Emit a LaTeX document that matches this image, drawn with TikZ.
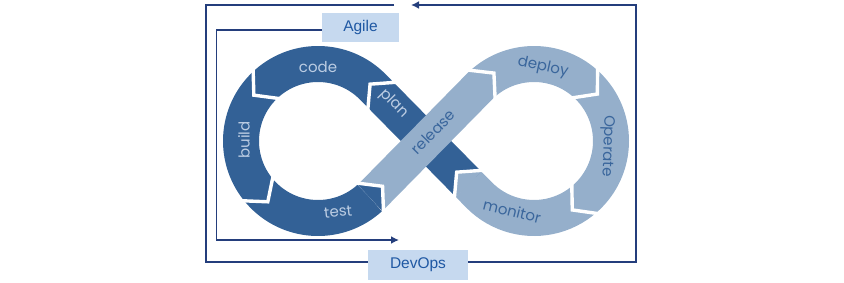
\documentclass[tikz,border=0pt]{standalone}
\usepackage{fontspec}
\setmainfont{Liberation Sans}
\newfontfamily\ribbonfont{Poppins}
\usetikzlibrary{calc,arrows.meta}
\definecolor{dk}{HTML}{336196}
\definecolor{lt}{HTML}{95AFCB}
\definecolor{dtxt}{HTML}{BCCDE3}
\definecolor{ltxt}{HTML}{3A669C}
\definecolor{boxfill}{HTML}{C6D9EF}
\definecolor{boxtxt}{HTML}{1F58A3}
\definecolor{navy}{HTML}{243E7C}
\begin{document}
\begin{tikzpicture}[x=1pt,y=1pt,
  dkband/.style={draw=dk,line width=36pt,line cap=butt},
  ltband/.style={draw=lt,line width=36pt,line cap=butt},
  sep/.style={draw=white,line width=3.4pt,line join=miter},
  ontxt/.style={font=\ribbonfont\fontsize{15}{15}\selectfont,text=dtxt,inner sep=0pt},
  oltxt/.style={font=\ribbonfont\fontsize{15}{15}\selectfont,text=ltxt,inner sep=0pt},
  tagbox/.style={fill=boxfill,text=boxtxt,inner sep=0pt,font=\fontsize{15.5}{16}\selectfont},
  conn/.style={draw=navy,line width=1.9pt}]
\useasboundingbox (0,0) rectangle (844,282);
\coordinate (CL) at (318,141);
\coordinate (CR) at (534,141);
\coordinate (TLp) at ($(CL)+(44.52:77)$);
\coordinate (TRp) at ($(CR)+(135.48:77)$);
\coordinate (TRm) at ($(CR)+(-135.48:77)$);
\coordinate (S) at ($(TRm)+(134.52:15)$);
\coordinate (B4) at ($(CL)+(-47.5:77)$);
\coordinate (C1) at ($(TLp)+(-45.48:13)$);
% dark half: plan + code/build/test
\draw[dkband] (S) -- (TLp) arc[start angle=44.52, end angle=312.5, radius=77pt];
% light half: release + deploy/Operate/monitor
\draw[ltband] (B4) arc[start angle=-47.5, end angle=-44.52, radius=77pt] -- (TRp)
  arc[start angle=135.48, end angle=-135.48, radius=77pt] -- (S);
% arrow tips across colour boundaries
\fill[dk] ($(B4)+(-47.5:18)$) -- ($(B4)+(42.5:17)$) -- ($(B4)+(132.5:18)$) -- cycle;
\fill[lt] ($(S)+(44.52:18)$) -- ($(S)+(134.52:17)$) -- ($(S)+(224.52:18)$) -- cycle;
% white separators
\foreach \a in {132,218,-47.5}{
  \draw[sep] ($(CL)+(\a:97)$) -- ($(CL)+(\a:77)+({\a+90}:17)$) -- ($(CL)+(\a:57)$);
}
\foreach \a in {133,49,-48.5}{
  \draw[sep] ($(CR)+(\a:97)$) -- ($(CR)+(\a:77)+({\a-90}:17)$) -- ($(CR)+(\a:57)$);
}
\draw[sep] ($(C1)+(44.52:20)$) -- ($(C1)+(134.52:17)$) -- ($(C1)+(224.52:20)$);
\draw[sep] ($(S)+(44.52:20)$) -- ($(S)+(134.52:17)$) -- ($(S)+(224.52:20)$);
% labels
\node[ontxt] (code) at (318,215) {code};
\node[ontxt,rotate=90] (build) at (244,142) {build};
\node[ontxt,rotate=6] (test) at (338,70) {test};
\node[ontxt,rotate=-45.5] (plan) at (394,178.5) {plan};
\node[oltxt,rotate=45.5] (release) at (433,150) {release};
\node[oltxt,rotate=-12] (deploy) at (543,215) {deploy};
\node[oltxt,rotate=-92] (operate) at (607,136) {Operate};
\node[oltxt,rotate=-14] (monitor) at (512,71) {monitor};
% boxes
\node[tagbox,minimum width=77pt,minimum height=29pt] (agile) at (360.5,254.5) {Agile};
\node[tagbox,minimum width=100pt,minimum height=30pt] (devops) at (418,17) {DevOps};
% connectors
\coordinate (a1) at (216.5,252);
\coordinate (aend) at (399,42);
\draw[conn,-{Latex[length=8pt,width=8pt]}] (agile.west |- a1) -- (a1) |- (aend);
\coordinate (o1) at (636,20);
\coordinate (o2) at (636,277);
\coordinate (otip) at (411,277);
\coordinate (ostart) at (394,277);
\coordinate (o4) at (206,20);
\draw[conn,-{Latex[length=8pt,width=8pt]}] (devops.east |- o1) -- (o1) -- (o2) -- (otip);
\draw[conn] (ostart) -| (o4) -- (devops.west |- o4);
\end{tikzpicture}
\end{document}
